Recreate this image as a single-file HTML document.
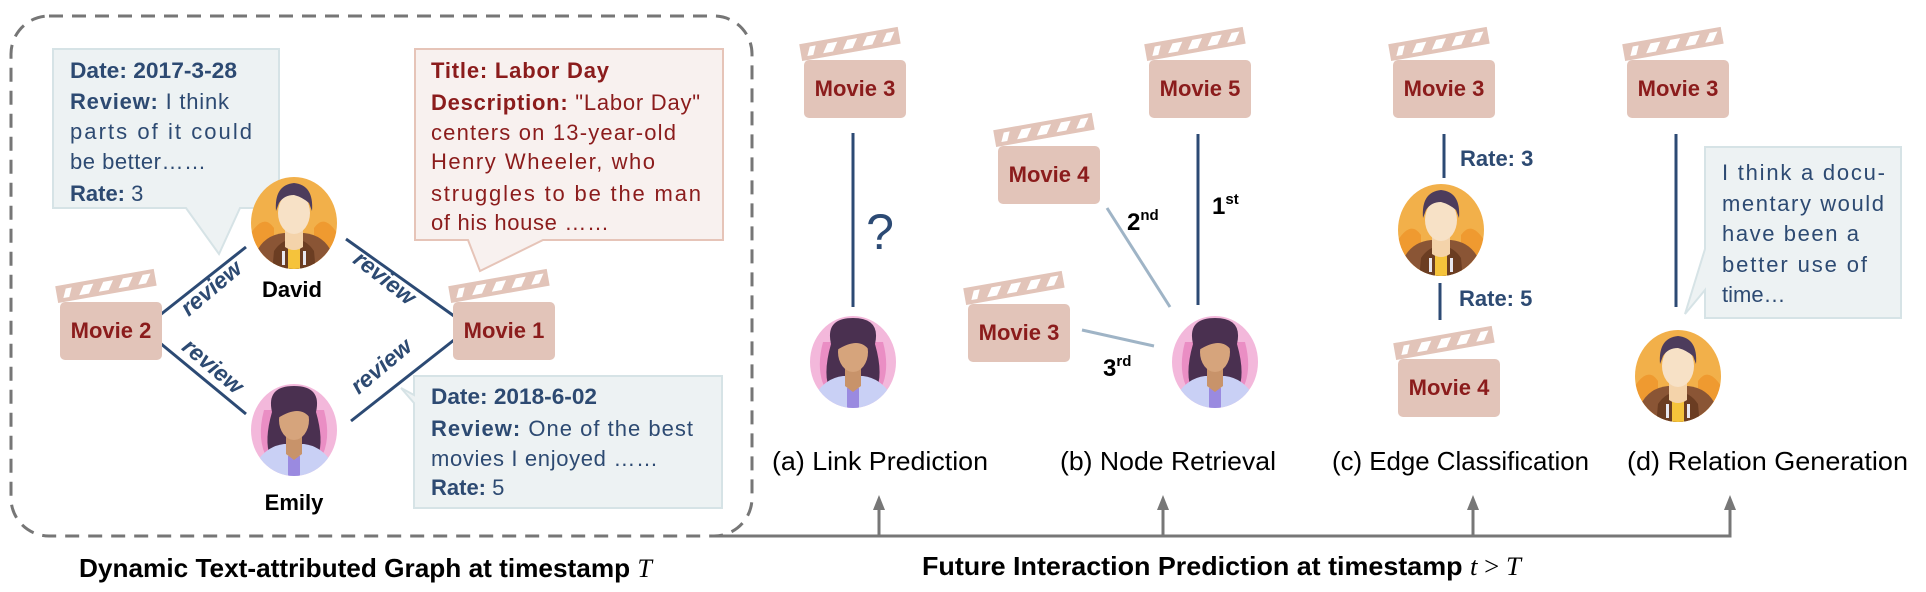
<!DOCTYPE html>
<html><head><meta charset="utf-8"><style>
html,body{margin:0;padding:0;background:#fff;}
svg{display:block;font-family:"Liberation Sans",sans-serif;}
.b{fill:#2d4a72;font-size:22px;}
.r{fill:#8b1c1c;font-size:22px;}
.mv{fill:#8b1c1c;font-size:22px;font-weight:bold;}
.cap{fill:#000;font-size:26px;}
.rv{fill:#2d4a72;font-size:23px;font-weight:bold;font-style:italic;}
</style></head><body>
<svg width="1926" height="592" viewBox="0 0 1926 592">
<defs>
<g id="clap">
  <g transform="translate(-2,0) rotate(-10)">
    <rect x="0" y="-16" width="100" height="17" fill="#e2c4b9"/>
    <polygon points="6,-3 10,-12 16,-12 12,-3" fill="#fff"/>
    <polygon points="22,-3 28,-12 38,-12 32,-3" fill="#fff"/>
    <polygon points="42,-3 48,-12 58,-12 52,-3" fill="#fff"/>
    <polygon points="62,-3 68,-12 78,-12 72,-3" fill="#fff"/>
    <polygon points="82,-3 88,-12 96,-12 90,-3" fill="#fff"/>
  </g>
  <rect x="0" y="0" width="102" height="58" rx="5" fill="#e2c4b9"/>
</g>
<clipPath id="cc"><ellipse cx="0" cy="0" rx="43" ry="46"/></clipPath>
<g id="david">
  <ellipse cx="0" cy="0" rx="43" ry="46" fill="#f2b04a"/>
  <g clip-path="url(#cc)">
    <path d="M-43,10 Q-30,-10 -20,5 L-20,50 L-43,50Z" fill="#ef9a30"/>
    <path d="M43,10 Q30,-10 20,5 L20,50 L43,50Z" fill="#ef9a30"/>
    <path d="M-40,50 L-38,30 Q-30,12 -10,10 L10,10 Q30,12 38,30 L40,50Z" fill="#8a5535"/>
    <path d="M-22,50 L-20,28 Q-12,16 0,16 Q12,16 20,28 L22,50Z" fill="#6b3d22"/>
    <rect x="-6" y="22" width="12" height="30" fill="#f5c33b"/>
    <rect x="-12" y="28" width="3" height="14" fill="#e8e8f0"/>
    <rect x="9" y="28" width="3" height="14" fill="#e8e8f0"/>
    <path d="M-9,6 L-9,24 Q0,30 9,24 L9,6Z" fill="#f4d3aa"/>
    <ellipse cx="0" cy="-10" rx="16" ry="21" fill="#f7e1c6"/>
    <path d="M-18,-12 Q-20,-38 0,-40 Q20,-38 18,-12 L15,-20 Q8,-26 0,-28 Q-10,-28 -15,-20Z" fill="#4d3c5c"/>
  </g>
</g>
<g id="emily">
  <ellipse cx="0" cy="0" rx="43" ry="46" fill="#f3b8db"/>
  <g clip-path="url(#cc)">
    <path d="M-30,-20 Q-38,10 -26,30 L26,30 Q38,10 30,-20Z" fill="#ea8ec4"/>
    <path d="M-22,-18 Q-28,-44 0,-44 Q28,-44 22,-18 Q30,10 24,26 L-24,26 Q-30,10 -22,-18Z" fill="#4a3050"/>
    <path d="M-40,50 L-36,30 Q-26,16 -10,14 L10,14 Q26,16 36,30 L40,50Z" fill="#c9d0f5"/>
    <rect x="-6" y="26" width="12" height="26" fill="#9a8ae0"/>
    <path d="M-8,6 L-8,24 L0,30 L8,24 L8,6Z" fill="#c8936a"/>
    <ellipse cx="0" cy="-10" rx="15" ry="20" fill="#d6a47c"/>
    <path d="M-16,-12 Q-14,-34 0,-34 Q14,-34 16,-12 Q6,-26 -16,-12Z" fill="#4a3050"/>
  </g>
</g>
</defs>

<rect x="11" y="16" width="741" height="520" rx="38" fill="none" stroke="#767676" stroke-width="3" stroke-dasharray="14,9"/>

<path d="M53,49 H279 V208 H240 L219,254 L186,208 H53 Z" fill="#edf2f3" stroke="#d6e3e6" stroke-width="2"/>
<text class="b" x="70" y="78" font-weight="bold" textLength="167" lengthAdjust="spacingAndGlyphs">Date: 2017-3-28</text>
<text class="b" x="70" y="109" textLength="159" lengthAdjust="spacing"><tspan font-weight="bold">Review:</tspan> I think</text>
<text class="b" x="70" y="139" textLength="182" lengthAdjust="spacing">parts of it could</text>
<text class="b" x="70" y="169" textLength="136" lengthAdjust="spacing">be better……</text>
<text class="b" x="70" y="201"><tspan font-weight="bold">Rate:</tspan> 3</text>

<path d="M415,49 H723 V240 H543 L480,271 L468,240 H415 Z" fill="#f8f1ef" stroke="#e6c4b8" stroke-width="2"/>
<text class="r" x="431" y="78" font-weight="bold" textLength="178" lengthAdjust="spacing">Title:  Labor  Day</text>
<text class="r" x="431" y="110" textLength="269" lengthAdjust="spacing"><tspan font-weight="bold">Description:</tspan> "Labor Day"</text>
<text class="r" x="431" y="140" textLength="245" lengthAdjust="spacing">centers on 13-year-old</text>
<text class="r" x="431" y="169" textLength="224" lengthAdjust="spacing">Henry Wheeler, who</text>
<text class="r" x="431" y="201" textLength="270" lengthAdjust="spacing">struggles to be the man</text>
<text class="r" x="431" y="230" textLength="178" lengthAdjust="spacing">of his house ……</text>

<path d="M414,376 H722 V508 H414 V403 L401,388 L414,395 Z" fill="#edf2f3" stroke="#d6e3e6" stroke-width="2"/>
<text class="b" x="431" y="404" font-weight="bold" textLength="166" lengthAdjust="spacingAndGlyphs">Date: 2018-6-02</text>
<text class="b" x="431" y="436" textLength="262" lengthAdjust="spacing"><tspan font-weight="bold">Review:</tspan> One of the best</text>
<text class="b" x="431" y="466" textLength="227" lengthAdjust="spacing">movies I enjoyed ……</text>
<text class="b" x="431" y="495"><tspan font-weight="bold">Rate:</tspan> 5</text>

<g stroke="#2c4a74" stroke-width="3">
<line x1="160" y1="315" x2="246" y2="247"/>
<line x1="346" y1="239" x2="454" y2="316"/>
<line x1="160" y1="343" x2="246" y2="414"/>
<line x1="351" y1="421" x2="454" y2="340"/>
</g>
<text class="rv" transform="translate(216,294) rotate(-40)" text-anchor="middle">review</text>
<text class="rv" transform="translate(380,284) rotate(38)" text-anchor="middle">review</text>
<text class="rv" transform="translate(208,372) rotate(40)" text-anchor="middle">review</text>
<text class="rv" transform="translate(386,372) rotate(-40)" text-anchor="middle">review</text>

<use href="#clap" x="60" y="302"/>
<text class="mv" x="111" y="338" text-anchor="middle">Movie 2</text>
<use href="#clap" x="453" y="302"/>
<text class="mv" x="504" y="338" text-anchor="middle">Movie 1</text>

<use href="#david" x="294" y="223"/>
<text x="292" y="297" font-size="22" font-weight="bold" text-anchor="middle">David</text>
<use href="#emily" x="294" y="430"/>
<text x="294" y="510" font-size="22" font-weight="bold" text-anchor="middle">Emily</text>

<text class="cap" x="79" y="577" font-weight="bold" textLength="573" lengthAdjust="spacingAndGlyphs">Dynamic Text-attributed Graph at timestamp <tspan font-family="Liberation Serif" font-style="italic" font-weight="normal">T</tspan></text>

<use href="#clap" x="804" y="60"/>
<text class="mv" x="855" y="96" text-anchor="middle">Movie 3</text>
<line x1="853" y1="133" x2="853" y2="307" stroke="#2c4a74" stroke-width="3"/>
<text x="880" y="249" font-size="50" fill="#2c4a74" text-anchor="middle">?</text>
<use href="#emily" x="853" y="362"/>
<text class="cap" x="772" y="470" textLength="216" lengthAdjust="spacingAndGlyphs">(a) Link Prediction</text>

<use href="#clap" x="1149" y="60"/>
<text class="mv" x="1200" y="96" text-anchor="middle">Movie 5</text>
<line x1="1198" y1="134" x2="1198" y2="305" stroke="#2c4a74" stroke-width="3"/>
<text x="1212" y="214" font-size="24" font-weight="bold">1<tspan font-size="15" dy="-10">st</tspan></text>
<use href="#clap" x="998" y="146"/>
<text class="mv" x="1049" y="182" text-anchor="middle">Movie 4</text>
<line x1="1107" y1="208" x2="1170" y2="307" stroke="#9fb4c6" stroke-width="3"/>
<text x="1127" y="230" font-size="24" font-weight="bold">2<tspan font-size="15" dy="-10">nd</tspan></text>
<use href="#clap" x="968" y="304"/>
<text class="mv" x="1019" y="340" text-anchor="middle">Movie 3</text>
<line x1="1082" y1="330" x2="1154" y2="346" stroke="#9fb4c6" stroke-width="3"/>
<text x="1103" y="376" font-size="24" font-weight="bold">3<tspan font-size="15" dy="-10">rd</tspan></text>
<use href="#emily" x="1215" y="362"/>
<text class="cap" x="1060" y="470" textLength="216" lengthAdjust="spacingAndGlyphs">(b) Node Retrieval</text>

<use href="#clap" x="1393" y="60"/>
<text class="mv" x="1444" y="96" text-anchor="middle">Movie 3</text>
<line x1="1444" y1="134" x2="1444" y2="178" stroke="#2c4a74" stroke-width="3"/>
<text x="1460" y="166" font-size="22" font-weight="bold" fill="#2d4a72">Rate: 3</text>
<use href="#david" x="1441" y="230"/>
<line x1="1440" y1="283" x2="1440" y2="320" stroke="#2c4a74" stroke-width="3"/>
<text x="1459" y="306" font-size="22" font-weight="bold" fill="#2d4a72">Rate: 5</text>
<use href="#clap" x="1398" y="359"/>
<text class="mv" x="1449" y="395" text-anchor="middle">Movie 4</text>
<text class="cap" x="1332" y="470" textLength="257" lengthAdjust="spacingAndGlyphs">(c) Edge Classification</text>

<use href="#clap" x="1627" y="60"/>
<text class="mv" x="1678" y="96" text-anchor="middle">Movie 3</text>
<line x1="1676" y1="134" x2="1676" y2="307" stroke="#2c4a74" stroke-width="3"/>
<path d="M1705,147 H1901 V318 H1705 V290 L1685,314 L1705,249 Z" fill="#edf2f3" stroke="#d6e3e6" stroke-width="2"/>
<text class="b" x="1722" y="180" textLength="163" lengthAdjust="spacing">I  think  a docu-</text>
<text class="b" x="1722" y="211" textLength="162" lengthAdjust="spacing">mentary  would</text>
<text class="b" x="1722" y="241" textLength="137" lengthAdjust="spacing">have  been  a</text>
<text class="b" x="1722" y="272" textLength="145" lengthAdjust="spacing">better  use  of</text>
<text class="b" x="1722" y="302">time…</text>
<use href="#david" x="1678" y="376"/>
<text class="cap" x="1627" y="470" textLength="281" lengthAdjust="spacingAndGlyphs">(d) Relation Generation</text>

<g stroke="#777" stroke-width="3" fill="none">
<polyline points="712,536 1730,536 1730,508"/>
<line x1="879" y1="536" x2="879" y2="508"/>
<line x1="1163" y1="536" x2="1163" y2="508"/>
<line x1="1473" y1="536" x2="1473" y2="508"/>
</g>
<g fill="#777">
<polygon points="873,510 885,510 879,495"/>
<polygon points="1157,510 1169,510 1163,495"/>
<polygon points="1467,510 1479,510 1473,495"/>
<polygon points="1724,510 1736,510 1730,495"/>
</g>
<text class="cap" x="922" y="575" font-weight="bold" textLength="599" lengthAdjust="spacingAndGlyphs">Future Interaction Prediction at timestamp <tspan font-family="Liberation Serif" font-style="italic" font-weight="normal">t</tspan><tspan font-family="Liberation Serif" font-weight="normal"> &gt; </tspan><tspan font-family="Liberation Serif" font-style="italic" font-weight="normal">T</tspan></text>
</svg>
</body></html>
